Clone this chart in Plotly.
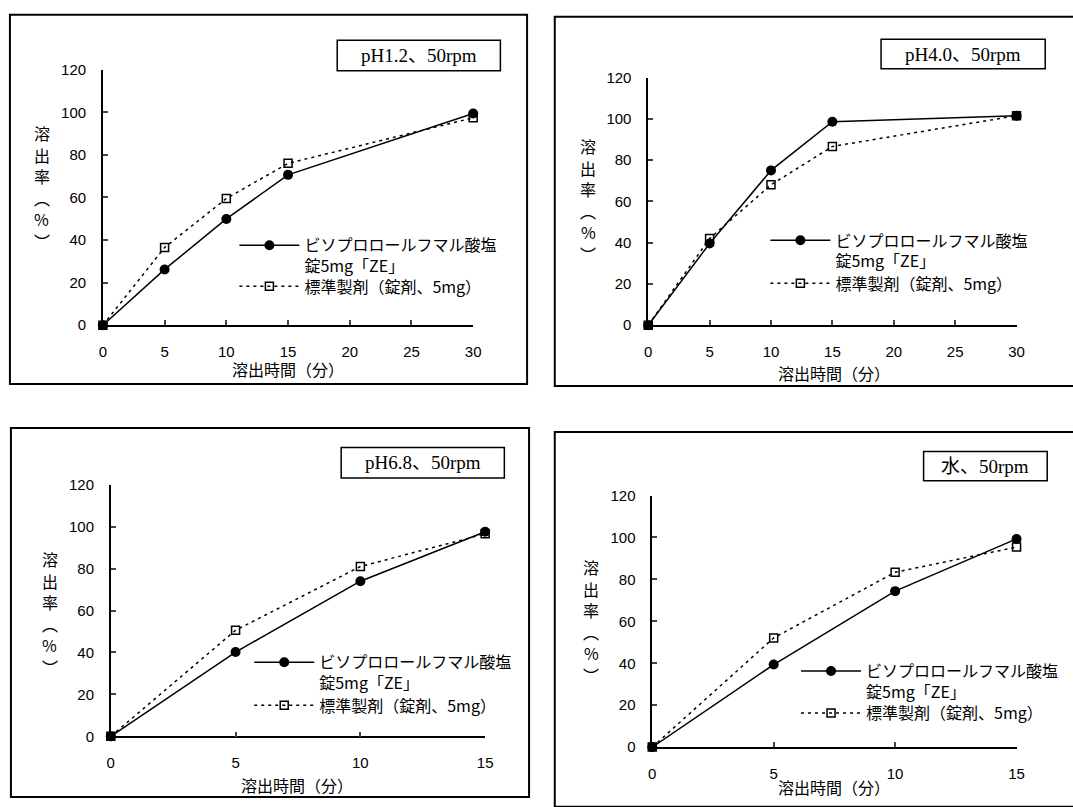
import plotly.graph_objects as go

# ---------------- data ----------------
time_30 = [0, 5, 10, 15, 30]
time_15 = [0, 5, 10, 15]

ph12_test = [0, 26.2, 49.9, 70.6, 99.4]
ph12_ref = [0, 36.5, 59.5, 76.0, 97.4]
ph40_test = [0, 39.6, 75.0, 98.6, 101.5]
ph40_ref = [0, 42.0, 68.0, 86.6, 101.5]
ph68_test = [0, 40.2, 74.0, 97.6]
ph68_ref = [0, 50.6, 81.0, 96.6]
water_test = [0, 39.4, 74.4, 99.3]
water_ref = [0, 52.1, 83.4, 95.4]

panel_titles = ["pH1.2、50rpm", "pH4.0、50rpm", "pH6.8、50rpm", "水、50rpm"]
test_name = "ビソプロロールフマル酸塩<br>錠5mg「ZE」"
ref_name = "標準製剤（錠剤、5mg）"
x_title = "溶出時間（分）"
y_title_chars = ["溶", "出", "率", "︵", "%", "︶"]

W, H = 1073, 807
def px(x):
    return x / W
def py(y):
    return 1 - y / H

CJK = "Noto Sans CJK JP"
TICKF = "Liberation Sans, Noto Sans CJK JP"
SERIF = "Liberation Serif, Noto Sans CJK JP"

LEG_OFF = 19   # legend top -> first text line centre
ITEM_W = 60    # legend symbol width
TEXT_DX = ITEM_W + 10  # legend left -> text start

panels = [
    dict(x=time_30, test=ph12_test, ref=ph12_ref, xmax=30,
         ax=(100, 474.5), ay=(323, 62), border=(6, 6, 529, 383),
         tbox=(337, 32, 502, 63), textx=303, legy=(243, 285),
         ylab=(38, 127), xlab=(287, 368)),
    dict(x=time_30, test=ph40_test, ref=ph40_ref, xmax=30,
         ax=(651.5, 1024), ay=(323, 70), border=(557, 8, 1085, 385),
         tbox=(887, 31, 1053, 61), textx=840, legy=(238, 282),
         ylab=(591, 140), xlab=(839, 372)),
    dict(x=time_15, test=ph68_test, ref=ph68_ref, xmax=15,
         ax=(108, 486.6), ay=(743, 486), border=(7, 428, 531, 805),
         tbox=(341, 448, 506, 479), textx=318, legy=(669, 713),
         ylab=(46.5, 562), xlab=(296, 793)),
    dict(x=time_15, test=water_test, ref=water_ref, xmax=15,
         ax=(655.6, 1024), ay=(754, 497), border=(557, 432, 1085, 815),
         tbox=(930, 452, 1055, 482), textx=871, legy=(678, 721),
         ylab=(594, 570), xlab=(839, 795)),
]

fig = go.Figure()
shapes = []
annotations = []
layout = dict(width=W, height=H, margin=dict(l=0, r=0, t=0, b=0),
              paper_bgcolor="white", plot_bgcolor="rgba(0,0,0,0)",
              showlegend=True)

def legend_cfg(x, ytop):
    return dict(x=px(x), y=py(ytop), xanchor="left", yanchor="top",
                xref="paper", yref="paper", bgcolor="rgba(0,0,0,0)",
                borderwidth=0, valign="top", tracegroupgap=0,
                itemwidth=ITEM_W,
                font=dict(family=CJK, size=16, color="black"))

leg_idx = 1
for i, p in enumerate(panels):
    n = "" if i == 0 else str(i + 1)
    xa, ya = "x" + n, "y" + n
    leg_a = "legend" if leg_idx == 1 else "legend" + str(leg_idx)
    leg_b = "legend" + str(leg_idx + 1)
    layout[leg_a] = legend_cfg(p["textx"] - TEXT_DX, p["legy"][0] - LEG_OFF)
    layout[leg_b] = legend_cfg(p["textx"] - TEXT_DX, p["legy"][1] - LEG_OFF)
    leg_idx += 2

    fig.add_trace(go.Scatter(
        x=p["x"], y=p["test"], name=test_name, mode="lines+markers",
        xaxis=xa, yaxis=ya, legend=leg_a, cliponaxis=False,
        line=dict(color="black", width=1.5),
        marker=dict(symbol="circle", size=10, color="black")))
    fig.add_trace(go.Scatter(
        x=p["x"], y=p["ref"], name=ref_name, mode="lines+markers",
        xaxis=xa, yaxis=ya, legend=leg_b, cliponaxis=False,
        line=dict(color="black", width=1.5, dash="3px,4px"),
        marker=dict(symbol="square-open", size=8, color="black",
                    line=dict(color="black", width=1.5))))
    layout["xaxis" + n] = dict(
        domain=[px(p["ax"][0]), px(p["ax"][1])], range=[0, p["xmax"]],
        anchor=ya, dtick=5, tick0=0, ticks="inside", ticklen=5, tickwidth=1.5,
        showline=True, linecolor="black", linewidth=1.5, showgrid=False,
        zeroline=False, tickfont=dict(family=TICKF, size=15, color="black"),
        ticklabelstandoff=12)
    layout["yaxis" + n] = dict(
        domain=[py(p["ay"][0]), py(p["ay"][1])], range=[0, 120],
        anchor=xa, dtick=20, tick0=0, ticks="inside", ticklen=5, tickwidth=1.5,
        showline=True, linecolor="black", linewidth=1.5, showgrid=False,
        zeroline=False, tickfont=dict(family=TICKF, size=15, color="black"),
        ticklabelstandoff=12)
    # outer border
    b = p["border"]
    shapes.append(dict(type="rect", xref="paper", yref="paper",
                       x0=px(b[0]), x1=px(b[2]), y0=py(b[3]), y1=py(b[1]),
                       line=dict(color="black", width=2)))
    # title box
    t = p["tbox"]
    shapes.append(dict(type="rect", xref="paper", yref="paper",
                       x0=px(t[0]), x1=px(t[2]), y0=py(t[3]), y1=py(t[1]),
                       line=dict(color="black", width=1.5), fillcolor="white"))
    annotations.append(dict(text=panel_titles[i], xref="paper", yref="paper",
                            x=px((t[0] + t[2]) / 2), y=py((t[1] + t[3]) / 2),
                            xanchor="center", yanchor="middle", showarrow=False,
                            font=dict(family=SERIF, size=19, color="black")))
    # y title (vertical)
    for k, ch in enumerate(y_title_chars):
        annotations.append(dict(text=ch, xref="paper", yref="paper",
                                x=px(p["ylab"][0]), y=py(p["ylab"][1] + 22 * k),
                                xanchor="center", yanchor="middle",
                                showarrow=False,
                                font=dict(family=CJK, size=16, color="black")))
    # x title
    annotations.append(dict(text=x_title, xref="paper", yref="paper",
                            x=px(p["xlab"][0]), y=py(p["xlab"][1]),
                            xanchor="center", yanchor="middle", showarrow=False,
                            font=dict(family=CJK, size=16, color="black")))

layout["shapes"] = shapes
layout["annotations"] = annotations
fig.update_layout(**layout)
fig.write_html("out.html",
               config={"displayModeBar": False},
               post_script="document.body.style.margin='0';")
